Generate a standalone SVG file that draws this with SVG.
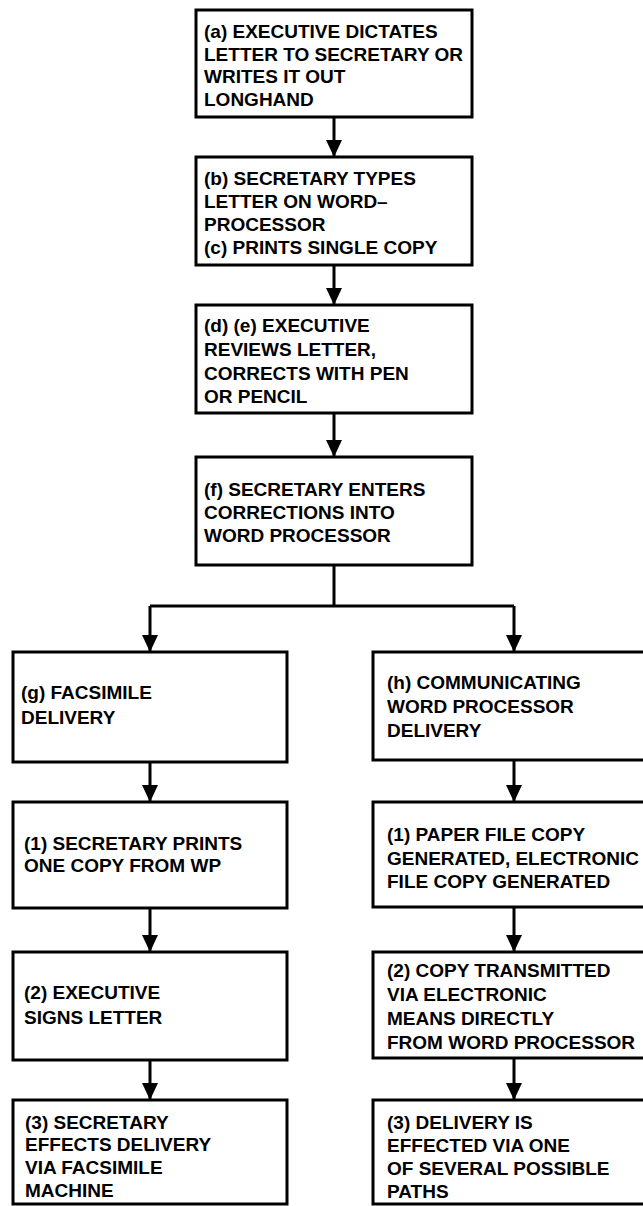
<svg xmlns="http://www.w3.org/2000/svg" width="643" height="1206" viewBox="0 0 643 1206">
<style>
.box{fill:#fff;stroke:#000;stroke-width:3}
.lbl{font-family:"Liberation Sans",Arial,sans-serif;font-weight:bold;font-size:19px;fill:#000}
.con{fill:none;stroke:#000;stroke-width:3}
</style>
<defs>
<marker id="arr" markerUnits="userSpaceOnUse" markerWidth="18" markerHeight="16" refX="17" refY="8" orient="auto" viewBox="0 0 18 16">
<path d="M0,0 L17,8 L0,16 Z" fill="#000"/>
</marker>
</defs>
<rect width="643" height="1206" fill="#fff"/>
<g id="connectors">
<path class="con" d="M334,117 V157" marker-end="url(#arr)"/>
<path class="con" d="M334,265 V305" marker-end="url(#arr)"/>
<path class="con" d="M334,413 V457" marker-end="url(#arr)"/>
<path class="con" d="M334,565 V606 M150,606 H514"/>
<path class="con" d="M150,606 V652" marker-end="url(#arr)"/>
<path class="con" d="M514,606 V652" marker-end="url(#arr)"/>
<path class="con" d="M150,762 V802" marker-end="url(#arr)"/>
<path class="con" d="M150,908 V952" marker-end="url(#arr)"/>
<path class="con" d="M150,1060 V1100" marker-end="url(#arr)"/>
<path class="con" d="M514,760 V802" marker-end="url(#arr)"/>
<path class="con" d="M514,907 V952" marker-end="url(#arr)"/>
<path class="con" d="M514,1058 V1100" marker-end="url(#arr)"/>
</g>
<g id="node-a">
<rect class="box" x="196" y="10" width="276" height="107"/>
<text class="lbl"><tspan x="204" y="38">(a) EXECUTIVE DICTATES</tspan><tspan x="204" y="61">LETTER TO SECRETARY OR</tspan><tspan x="204" y="83">WRITES IT OUT</tspan><tspan x="204" y="106">LONGHAND</tspan></text>
</g>
<g id="node-b">
<rect class="box" x="196" y="157" width="276" height="108"/>
<text class="lbl"><tspan x="204" y="185">(b) SECRETARY TYPES</tspan><tspan x="204" y="208">LETTER ON WORD–</tspan><tspan x="204" y="231">PROCESSOR</tspan><tspan x="204" y="254">(c) PRINTS SINGLE COPY</tspan></text>
</g>
<g id="node-d">
<rect class="box" x="196" y="305" width="276" height="108"/>
<text class="lbl"><tspan x="204" y="332">(d) (e) EXECUTIVE</tspan><tspan x="204" y="356">REVIEWS LETTER,</tspan><tspan x="204" y="380">CORRECTS WITH PEN</tspan><tspan x="204" y="403">OR PENCIL</tspan></text>
</g>
<g id="node-f">
<rect class="box" x="196" y="457" width="276" height="108"/>
<text class="lbl"><tspan x="204" y="496">(f) SECRETARY ENTERS</tspan><tspan x="204" y="519">CORRECTIONS INTO</tspan><tspan x="204" y="542">WORD PROCESSOR</tspan></text>
</g>
<g id="node-g">
<rect class="box" x="13" y="652" width="274" height="110"/>
<text class="lbl"><tspan x="21" y="699">(g) FACSIMILE</tspan><tspan x="21" y="724">DELIVERY</tspan></text>
</g>
<g id="node-g1">
<rect class="box" x="13" y="802" width="274" height="106"/>
<text class="lbl"><tspan x="24" y="850">(1) SECRETARY PRINTS</tspan><tspan x="24" y="872">ONE COPY FROM WP</tspan></text>
</g>
<g id="node-g2">
<rect class="box" x="13" y="952" width="274" height="108"/>
<text class="lbl"><tspan x="24" y="999">(2) EXECUTIVE</tspan><tspan x="24" y="1024">SIGNS LETTER</tspan></text>
</g>
<g id="node-g3">
<rect class="box" x="13" y="1100" width="274" height="104"/>
<text class="lbl"><tspan x="25" y="1129">(3) SECRETARY</tspan><tspan x="25" y="1151">EFFECTS DELIVERY</tspan><tspan x="25" y="1174">VIA FACSIMILE</tspan><tspan x="25" y="1197">MACHINE</tspan></text>
</g>
<g id="node-h">
<rect class="box" x="373" y="652" width="274" height="108"/>
<text class="lbl"><tspan x="387" y="689">(h) COMMUNICATING</tspan><tspan x="387" y="713">WORD PROCESSOR</tspan><tspan x="387" y="737">DELIVERY</tspan></text>
</g>
<g id="node-h1">
<rect class="box" x="373" y="802" width="274" height="105"/>
<text class="lbl"><tspan x="387" y="841">(1) PAPER FILE COPY</tspan><tspan x="387" y="865">GENERATED, ELECTRONIC</tspan><tspan x="387" y="888">FILE COPY GENERATED</tspan></text>
</g>
<g id="node-h2">
<rect class="box" x="373" y="952" width="274" height="106"/>
<text class="lbl"><tspan x="387" y="977">(2) COPY TRANSMITTED</tspan><tspan x="387" y="1001">VIA ELECTRONIC</tspan><tspan x="387" y="1025">MEANS DIRECTLY</tspan><tspan x="387" y="1049">FROM WORD PROCESSOR</tspan></text>
</g>
<g id="node-h3">
<rect class="box" x="373" y="1100" width="274" height="104"/>
<text class="lbl"><tspan x="387" y="1129">(3) DELIVERY IS</tspan><tspan x="387" y="1152">EFFECTED VIA ONE</tspan><tspan x="387" y="1175">OF SEVERAL POSSIBLE</tspan><tspan x="387" y="1198">PATHS</tspan></text>
</g>
</svg>
